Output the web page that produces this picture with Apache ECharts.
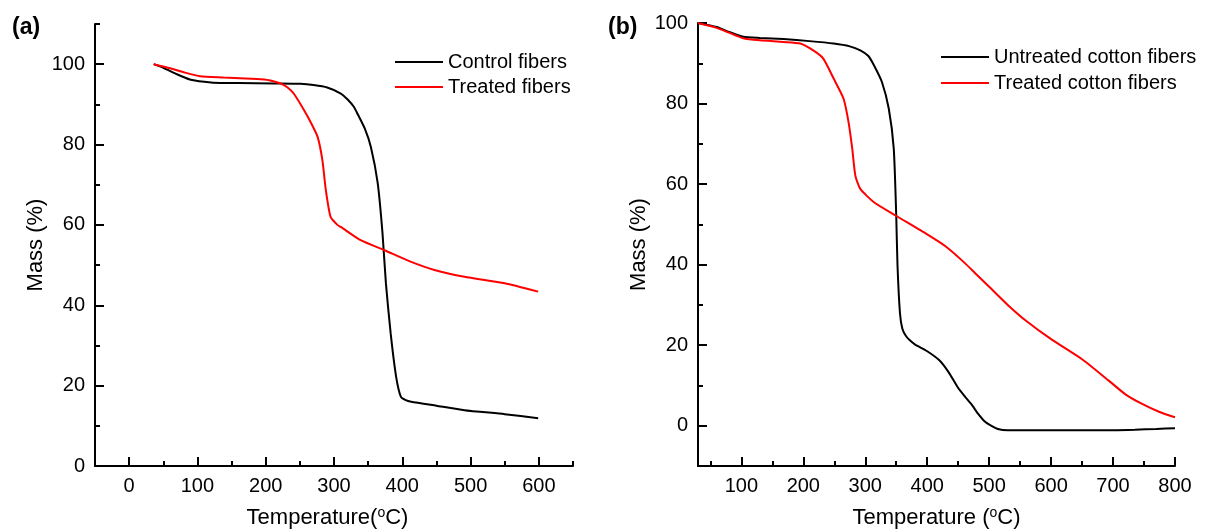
<!DOCTYPE html>
<html>
<head>
<meta charset="utf-8">
<script src="https://cdn.jsdelivr.net/npm/echarts@6/dist/echarts.min.js"></script>
<style>
html,body{margin:0;padding:0;background:#fff;}
#chart{width:1206px;height:531px;}
</style>
</head>
<body>
<div id="chart"></div>
<script>
// ---------- Data ----------
// Panel (a)
const controlA_T = [36, 50, 70, 89, 110, 123, 160, 211, 251, 270, 290, 310, 320, 329, 334, 345, 354, 364, 371, 376, 383, 391, 398, 405, 413, 450, 491, 550, 599];
const controlA_M = [100, 99.1, 97.5, 96.2, 95.6, 95.4, 95.3, 95.2, 95.1, 94.8, 94.2, 92.7, 91.2, 89.4, 87.8, 84, 79.4, 70.4, 58, 45.5, 33, 22.2, 17.2, 16.4, 16.0, 15.0, 13.9, 12.9, 11.9];
const treatedA_T = [36, 60, 80, 104, 138, 187, 205, 222, 232, 241, 256, 266, 276, 283, 288, 295, 305, 310, 339, 374, 413, 447, 491, 550, 599];
const treatedA_M = [100, 99.0, 98.0, 97.0, 96.7, 96.3, 96.0, 95.2, 94.2, 92.7, 88.6, 85.5, 81.9, 76.1, 68.7, 62.0, 60.0, 59.5, 56.2, 53.7, 50.8, 48.8, 47.1, 45.5, 43.4];
// Panel (b)
const untreatedB_T = [30, 60, 80, 103, 130, 168, 210, 249, 275, 292, 305, 314, 327, 338, 346, 350, 352, 356, 360, 366, 372, 380, 400, 420, 435, 449, 460, 471, 482, 492, 503, 514, 530, 600, 700, 735, 770, 800];
const untreatedB_M = [100, 99.0, 97.8, 96.6, 96.3, 96.0, 95.5, 94.9, 94.2, 93.2, 91.8, 89.5, 85.3, 78.7, 68.8, 52.2, 40, 28, 24, 22.2, 21.2, 20.2, 18.5, 16.2, 13.2, 9.6, 7.4, 5.4, 3.0, 1.2, 0, -0.8, -1.1, -1.1, -1.1, -1.0, -0.8, -0.6];
const treatedB_T = [30, 60, 80, 103, 130, 168, 195, 216, 232, 249, 265, 273, 279, 284, 292, 314, 349, 400, 430, 460, 480, 500, 530, 560, 600, 650, 693, 720, 747, 775, 800];
const treatedB_M = [100, 98.8, 97.6, 96.2, 95.7, 95.3, 94.9, 93.2, 91.2, 86.2, 81.2, 75.4, 68.8, 62.1, 58.8, 55.5, 52.2, 47.5, 44.5, 40.5, 37.5, 34.5, 30, 26, 21.5, 16.5, 11.2, 7.8, 5.4, 3.4, 2.1];

// Tick labels
const xTicksA = [0, 100, 200, 300, 400, 500, 600];
const xMinorA = [50, 150, 250, 350, 450, 550, 650];
const yTicksA = [0, 20, 40, 60, 80, 100];
const yMinorA = [10, 30, 50, 70, 90, 110];
const xTicksB = [100, 200, 300, 400, 500, 600, 700, 800];
const xMinorB = [50, 150, 250, 350, 450, 550, 650, 750];
const yTicksB = [0, 20, 40, 60, 80, 100];
const yMinorB = [10, 30, 50, 70, 90];

const names = ['Control fibers', 'Treated fibers', 'Untreated cotton fibers', 'Treated cotton fibers'];

// ---------- Helpers ----------
const zip = (t, m) => t.map((v, i) => [v, m[i]]);
const FONT = 'Liberation Sans, Arial, sans-serif';
const lineAxis = { show: true, onZero: false, lineStyle: { color: '#000', width: 2 } };

function majorAxis(gridIndex, min, max, ticks, extra) {
  return Object.assign({
    type: 'value', gridIndex, min, max,
    axisLine: lineAxis,
    axisTick: { show: true, inside: true, length: 9, lineStyle: { color: '#000', width: 2 }, customValues: ticks },
    axisLabel: { show: true, margin: 10, color: '#000', fontSize: 20, fontFamily: FONT, customValues: ticks },
    splitLine: { show: false }
  }, extra || {});
}
function minorAxis(gridIndex, min, max, ticks, pos) {
  return {
    type: 'value', gridIndex, min, max, position: pos, offset: 0,
    axisLine: { show: false, onZero: false },
    axisTick: { show: true, inside: true, length: 5, lineStyle: { color: '#000', width: 2 }, customValues: ticks },
    axisLabel: { show: false, customValues: ticks },
    splitLine: { show: false }
  };
}
const nameStyle = {
  color: '#000', fontSize: 22, fontFamily: FONT,
  rich: { sup: { fontSize: 14, fontFamily: FONT, color: '#000', verticalAlign: 'top', padding: [0, 0, 10, 0] } }
};
const legendText = { fontSize: 20, color: '#000', fontFamily: FONT };
const lineSeries = (name, xi, t, m, color) => ({
  name, type: 'line', xAxisIndex: xi, yAxisIndex: xi, data: zip(t, m),
  symbol: 'none', showSymbol: false, smooth: 0.2,
  lineStyle: { color, width: 2 }, itemStyle: { color }
});

const chart = echarts.init(document.getElementById('chart'), null, { renderer: 'canvas' });
chart.setOption({
  backgroundColor: '#fff',
  animation: false,
  textStyle: { fontFamily: FONT },
  title: [
    { text: '(a)', left: 7, top: 11, textStyle: { fontSize: 23, fontWeight: 'bold', color: '#000', fontFamily: FONT } },
    { text: '(b)', left: 603, top: 11, textStyle: { fontSize: 23, fontWeight: 'bold', color: '#000', fontFamily: FONT } }
  ],
  grid: [
    { left: 95, top: 24, width: 478, height: 442, outerBoundsMode: 'none', containLabel: false },
    { left: 698, top: 23, width: 477, height: 443, outerBoundsMode: 'none', containLabel: false }
  ],
  legend: [
    { data: [names[0], names[1]], orient: 'vertical', left: 390, top: 47, icon: 'rect', itemWidth: 48, itemHeight: 2, itemGap: 5,
      textStyle: legendText },
    { data: [names[2], names[3]], orient: 'vertical', left: 936, top: 42, icon: 'rect', itemWidth: 48, itemHeight: 2, itemGap: 6,
      textStyle: legendText }
  ],
  xAxis: [
    majorAxis(0, -50, 650, xTicksA, { position: 'bottom', name: 'Temperature({sup|o}C)', nameLocation: 'middle', nameGap: 40,
      nameTextStyle: Object.assign({}, nameStyle, { padding: [0, 13, 0, 0] }) }),
    minorAxis(0, -50, 650, xMinorA, 'bottom'),
    majorAxis(1, 30, 800, xTicksB, { position: 'bottom', name: 'Temperature ({sup|o}C)', nameLocation: 'middle', nameGap: 40,
      nameTextStyle: nameStyle }),
    minorAxis(1, 30, 800, xMinorB, 'bottom')
  ],
  yAxis: [
    majorAxis(0, 0, 110, yTicksA, { position: 'left', name: 'Mass (%)', nameLocation: 'middle', nameGap: 48, nameTextStyle: nameStyle }),
    minorAxis(0, 0, 110, yMinorA, 'left'),
    majorAxis(1, -10, 100, yTicksB, { position: 'left', name: 'Mass (%)', nameLocation: 'middle', nameGap: 48, nameTextStyle: nameStyle }),
    minorAxis(1, -10, 100, yMinorB, 'left')
  ],
  series: [
    lineSeries(names[0], 0, controlA_T, controlA_M, '#000000'),
    lineSeries(names[1], 0, treatedA_T, treatedA_M, '#ff0000'),
    lineSeries(names[2], 2, untreatedB_T, untreatedB_M, '#000000'),
    lineSeries(names[3], 2, treatedB_T, treatedB_M, '#ff0000')
  ]
});
</script>
</body>
</html>
